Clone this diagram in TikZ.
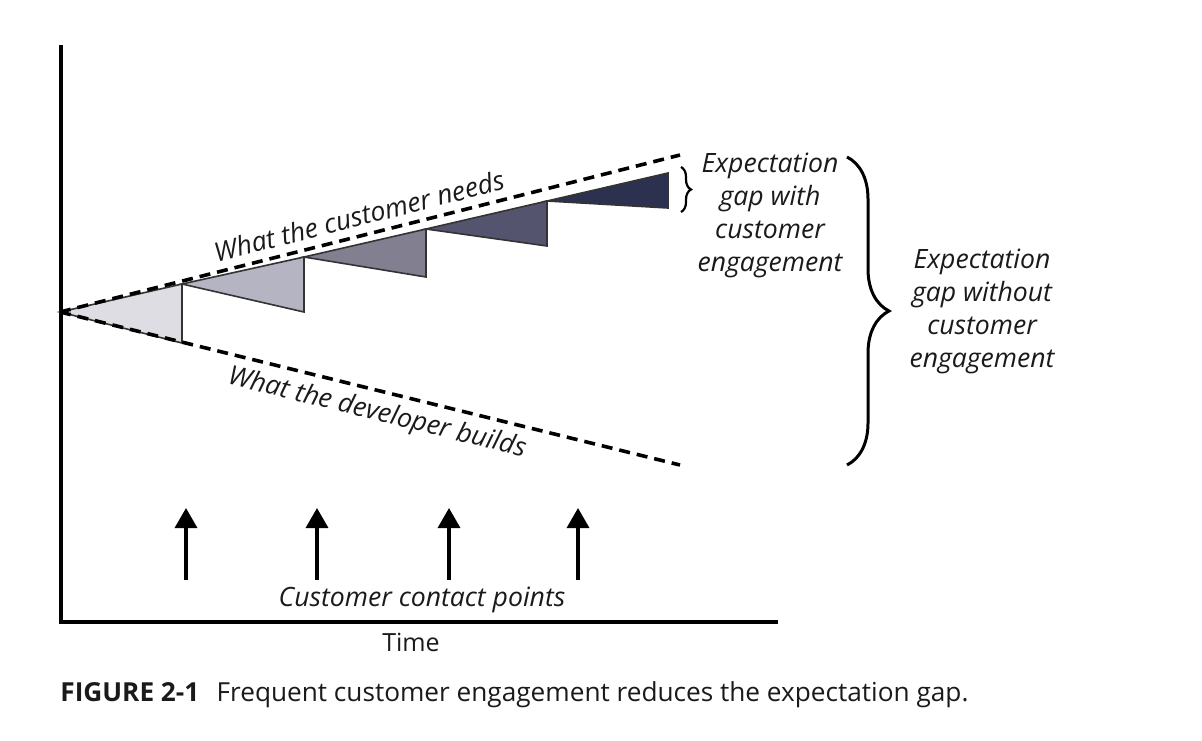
\documentclass[tikz,border=0pt]{standalone}
\usepackage{fontspec}
\setmainfont{Open Sans}
\usetikzlibrary{arrows.meta}
\usetikzlibrary{decorations.pathreplacing}
\definecolor{inkblack}{HTML}{1A1A1A}
\definecolor{stepA}{HTML}{DDDDE3}
\definecolor{stepB}{HTML}{B5B4C2}
\definecolor{stepC}{HTML}{817F90}
\definecolor{stepD}{HTML}{55546E}
\definecolor{stepE}{HTML}{2C3150}

\begin{document}
\begin{tikzpicture}
        [
          x=0.5pt, y=-0.5pt,
          axis/.style={draw=black, line width=1.6pt},
          expectline/.style={draw=black, line width=1.8pt, dash pattern=on 5.5pt off 3.5pt},
          wedge/.style={draw=black!80, line width=0.8pt, line join=miter},
          contact/.style={draw=black, line width=1.75pt, -{Triangle[length=10pt,width=11pt]}},
          gapbrace/.style={draw=black, line width=1.5pt, decorate},
          every node/.style={align=center, text=inkblack, font=\itshape\fontsize{13.3}{16.5}\selectfont}
        ]
        \useasboundingbox (0,0) rectangle (1202,740);

        % axes
        \coordinate (top) at (61,45);
        \coordinate (corner) at (61,622);
        \coordinate (right) at (778,622);
        \draw[axis] (top) -- (corner) -- (right);

        % the widening steps
        \coordinate (start) at (60,312);
        \coordinate (t1) at (182,284);
        \coordinate (t2) at (304,257);
        \coordinate (t3) at (426,229);
        \coordinate (t4) at (547,201);
        \coordinate (t5) at (668,173);
        \coordinate (b1) at (182,343);
        \coordinate (b2) at (304,312);
        \coordinate (b3) at (426,277);
        \coordinate (b4) at (547,246);
        \coordinate (b5) at (668,208);
        \filldraw[wedge, fill=stepA] (start) -- (t1) -- (b1) -- cycle;
        \filldraw[wedge, fill=stepB] (t1) -- (t2) -- (b2) -- cycle;
        \filldraw[wedge, fill=stepC] (t2) -- (t3) -- (b3) -- cycle;
        \filldraw[wedge, fill=stepD] (t3) -- (t4) -- (b4) -- cycle;
        \filldraw[wedge, fill=stepE] (t4) -- (t5) -- (b5) -- cycle;

        % what is wanted and what is built
        \coordinate (needs) at (680,155);
        \coordinate (builds) at (680,465);
        \draw[expectline] (start) -- (needs)
          node[pos=0.49, sloped, above=0.5pt] {What the customer needs};
        \draw[expectline] (start) -- (builds)
          node[pos=0.52, sloped, below=0.5pt] {What the developer builds};

        % gaps
        \coordinate (smalltop) at (681,167);
        \coordinate (smallbottom) at (681,212);
        \draw[gapbrace, line width=1.1pt, decoration={brace, amplitude=5pt}] (smalltop) -- (smallbottom);
        \node (withgap) at (770,215) {Expectation\\gap with\\customer\\engagement};

        \coordinate (bigtop) at (847,157);
        \coordinate (bigbottom) at (847,465);
        \draw[gapbrace, decoration={brace, amplitude=21pt}] (bigtop) -- (bigbottom);
        \node (withoutgap) at (982,311) {Expectation\\gap without\\customer\\engagement};

        % contact points
        \foreach \x [count=\i] in {186,317,449,578} {
          \coordinate (foot\i) at (\x,580);
          \coordinate (tip\i) at (\x,508);
          \draw[contact] (foot\i) -- (tip\i);
        }
        \node (contacts) at (422,600) {Customer contact points};
        \node[font=\fontsize{12.5}{15}\selectfont] (time) at (411,642) {Time};

        % caption
        \node[anchor=west, inner sep=0pt, font=\fontsize{13.1}{15}\selectfont] (caption) at (60,695)
          {\textbf{FIGURE 2-1}\hspace{0.4em} Frequent customer engagement reduces the expectation gap.};
\end{tikzpicture}
\end{document}
